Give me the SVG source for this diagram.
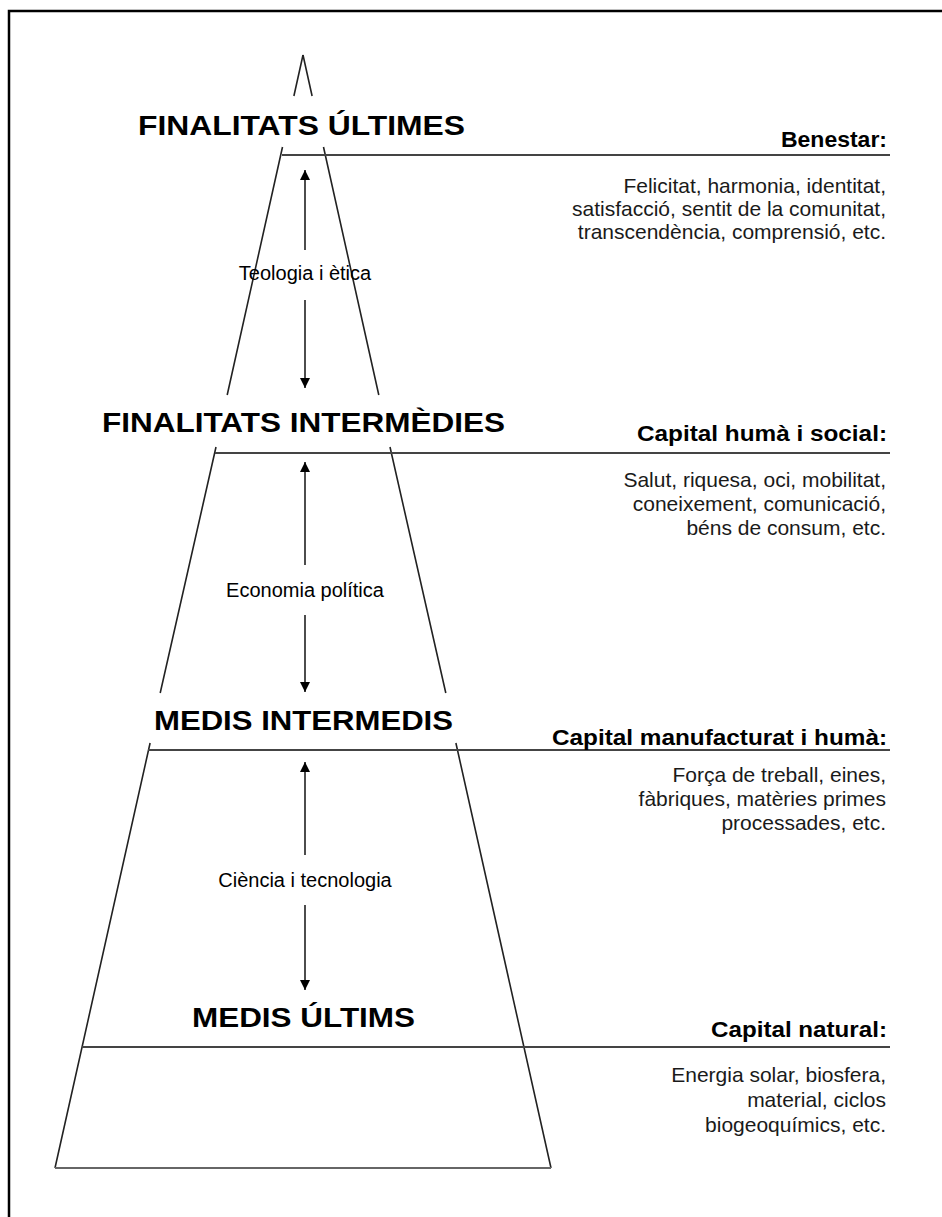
<svg xmlns="http://www.w3.org/2000/svg" width="942" height="1217" viewBox="0 0 942 1217">
  <style>
    .title { font-family: "Liberation Sans", Arial, sans-serif; font-weight: bold; font-size: 28px; fill: #000; }
    .head { font-family: "Liberation Sans", Arial, sans-serif; font-weight: bold; font-size: 22px; fill: #000; text-anchor: end; }
    .body { font-family: "Liberation Sans", Arial, sans-serif; font-size: 21px; fill: #1a1a1a; text-anchor: end; }
    .lbl { font-family: "Liberation Sans", Arial, sans-serif; font-size: 20px; fill: #000; text-anchor: middle; }
    .side { stroke: #222; stroke-width: 1.6; fill: none; }
    .rule { stroke: #444; stroke-width: 2; fill: none; }
    .shaft { stroke: #000; stroke-width: 1.4; fill: none; }
  </style>
  <defs>
    <marker id="head" viewBox="0 0 10 10" refX="10" refY="5" markerWidth="10" markerHeight="10" markerUnits="userSpaceOnUse" orient="auto-start-reverse">
      <path d="M0,0 L10,5 L0,10 Z" fill="#000"/>
    </marker>
  </defs>

  <rect width="942" height="1217" fill="#fff"/>
  <!-- outer frame, open on the right and bottom -->
  <path d="M9,1217 V11 H942" fill="none" stroke="#000" stroke-width="2.5"/>

  <!-- pyramid outline: two long sides broken around the level titles -->
  <g id="pyramid">
    <path class="side" d="M303,55 L293.9,96 M303,55 L312.1,96"/>
    <path class="side" d="M282.5,147 L227.2,395 M323.5,147 L378.8,395"/>
    <path class="side" d="M216,447 L160.2,693 M390,447 L445.8,693"/>
    <path class="side" d="M150.1,743 L55,1168 M455.9,743 L551,1168"/>
    <path d="M55,1168 H551" fill="none" stroke="#666" stroke-width="2.2"/>
  </g>

  <g id="level-1">
    <text class="title" x="138" y="135" textLength="327" lengthAdjust="spacingAndGlyphs">FINALITATS ÚLTIMES</text>
    <path class="rule" d="M282,155 H890"/>
    <text class="head" x="887" y="147" textLength="106" lengthAdjust="spacingAndGlyphs">Benestar:</text>
    <text class="body" x="886" y="193">Felicitat, harmonia, identitat,</text>
    <text class="body" x="886" y="216">satisfacció, sentit de la comunitat,</text>
    <text class="body" x="886" y="239">transcendència, comprensió, etc.</text>
  </g>

  <g id="level-2">
    <text class="title" x="102" y="432" textLength="403" lengthAdjust="spacingAndGlyphs">FINALITATS INTERMÈDIES</text>
    <path class="rule" d="M215,453 H890"/>
    <text class="head" x="887" y="441" textLength="250" lengthAdjust="spacingAndGlyphs">Capital humà i social:</text>
    <text class="body" x="886" y="487">Salut, riquesa, oci, mobilitat,</text>
    <text class="body" x="886" y="511">coneixement, comunicació,</text>
    <text class="body" x="886" y="535">béns de consum, etc.</text>
  </g>

  <g id="level-3">
    <text class="title" x="154" y="730" textLength="299" lengthAdjust="spacingAndGlyphs">MEDIS INTERMEDIS</text>
    <path class="rule" d="M148,750 H890"/>
    <text class="head" x="887" y="745" textLength="335" lengthAdjust="spacingAndGlyphs">Capital manufacturat i humà:</text>
    <text class="body" x="886" y="782">Força de treball, eines,</text>
    <text class="body" x="886" y="806">fàbriques, matèries primes</text>
    <text class="body" x="886" y="830">processades, etc.</text>
  </g>

  <g id="level-4">
    <text class="title" x="192" y="1027" textLength="223" lengthAdjust="spacingAndGlyphs">MEDIS ÚLTIMS</text>
    <path class="rule" d="M82,1047 H890"/>
    <text class="head" x="887" y="1037" textLength="176" lengthAdjust="spacingAndGlyphs">Capital natural:</text>
    <text class="body" x="886" y="1082">Energia solar, biosfera,</text>
    <text class="body" x="886" y="1107">material, ciclos</text>
    <text class="body" x="886" y="1132">biogeoquímics, etc.</text>
  </g>

  <!-- two-way links between levels, each split by its discipline label -->
  <g id="connectors">
    <path class="shaft" d="M305,250 V170" marker-end="url(#head)"/>
    <path class="shaft" d="M305,300 V388" marker-end="url(#head)"/>
    <path class="shaft" d="M305,565 V462" marker-end="url(#head)"/>
    <path class="shaft" d="M305,615 V692" marker-end="url(#head)"/>
    <path class="shaft" d="M305,855 V762" marker-end="url(#head)"/>
    <path class="shaft" d="M305,905 V990" marker-end="url(#head)"/>
  </g>

  <g id="labels">
    <text class="lbl" x="305" y="280">Teologia i ètica</text>
    <text class="lbl" x="305" y="597">Economia política</text>
    <text class="lbl" x="305" y="887">Ciència i tecnologia</text>
  </g>
</svg>
